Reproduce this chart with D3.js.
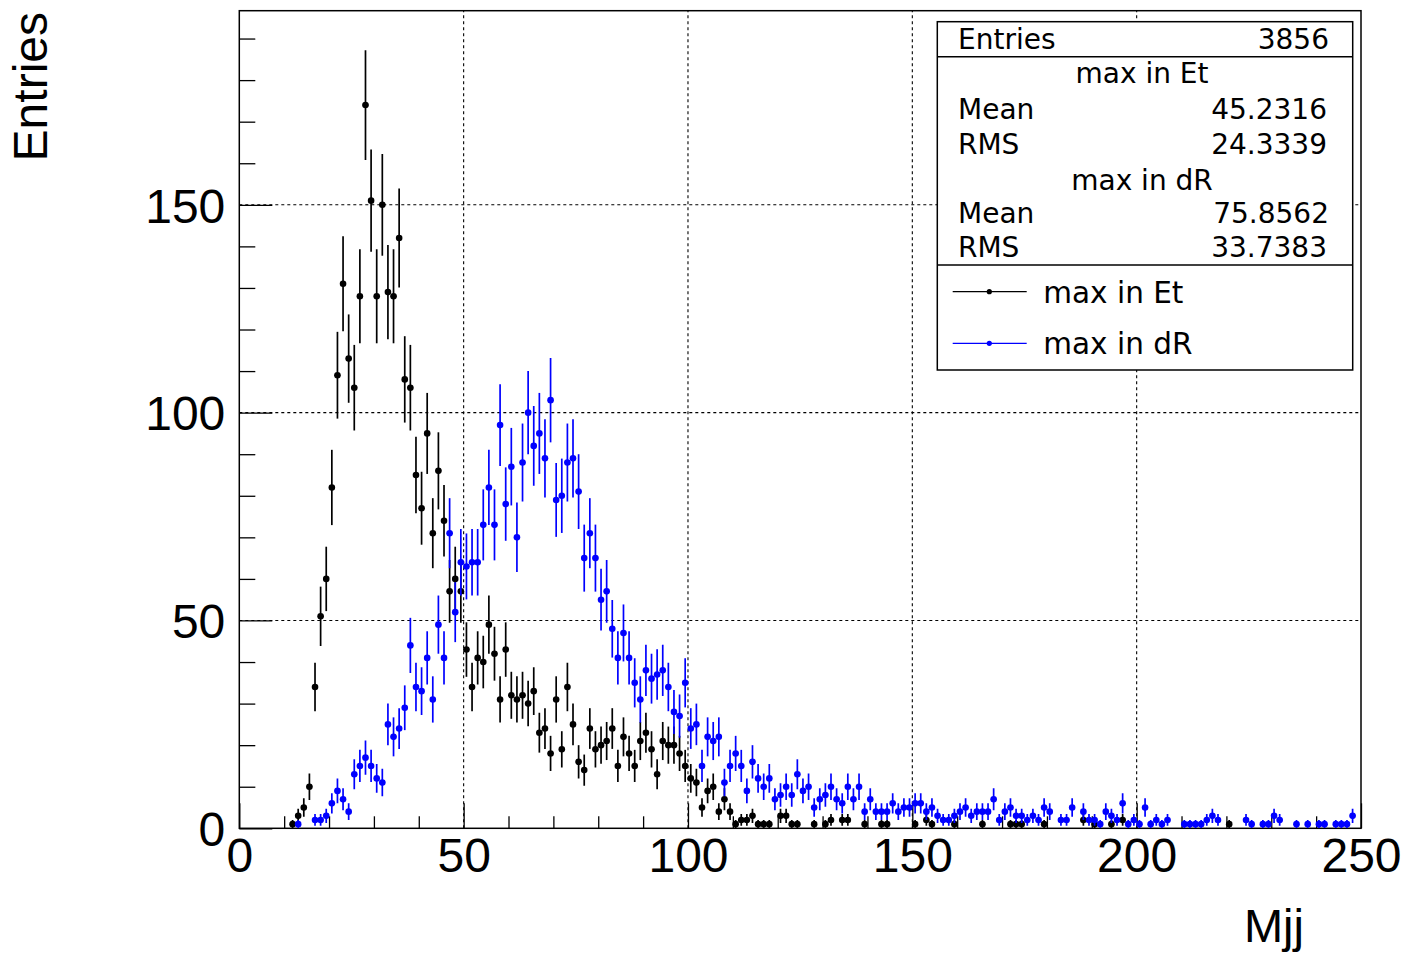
<!DOCTYPE html>
<html><head><meta charset="utf-8">
<script src="https://cdn.jsdelivr.net/npm/d3@7/dist/d3.min.js"></script>
<style>body{margin:0;background:#fff;}svg{display:block;}</style>
</head><body>
<svg id="c" width="1405" height="955"></svg>
<script>
// 200 bins from 0 to 250 (width 1.25)
const binEdges = [0, 250];
const nBins = 200;
const maxInEt = [
 0,0,0,0,0,0,0,0,0,1, 3,5,10,34,51,60,82,109,131,113,
 106,128,174,151,128,150,129,128,142,108, 106,85,77,95,71,86,74,57,60,57,
 43,34,41,40,49,42,31,43,32,31, 32,30,33,23,24,18,31,19,34,25,
 16,14,24,19,20,21,24,15,22,18, 15,21,23,19,13,21,20,20,18,15,
 12,11,5,9,10,4,7,4,1,2, 2,3,1,1,1,0,3,3,1,1,
 0,0,1,0,1,2,0,2,2,0, 0,1,0,0,1,1,0,0,0,0,
 1,0,2,1,0,0,0,1,0,0, 0,0,1,0,0,0,0,1,1,1,
 0,0,0,1,0,0,0,0,0,0, 2,0,1,0,0,1,0,2,0,0,
 0,0,0,0,0,0,0,0,0,0, 0,0,0,0,0,0,1,0,0,0,
 0,0,0,0,0,0,0,0,0,0, 0,0,0,0,0,0,0,0,0,0
];
const maxInDR = [
 0,0,0,0,0,0,0,0,0,0, 1,0,0,2,2,3,6,9,7,4,
 13,15,17,15,12,11,25,22,24,29, 44,34,33,41,31,49,41,71,52,64,
 63,64,64,73,82,73,97,78,87,70, 88,100,92,95,89,103,79,80,88,89,
 81,65,71,65,55,57,48,41,47,41, 35,31,38,36,37,38,34,28,27,35,
 24,25,15,22,21,22,11,15,18,15, 9,16,12,10,12,7,8,10,8,13,
 9,10,5,7,8,10,7,6,10,7, 10,4,7,4,4,4,6,4,5,5,
 6,6,4,5,3,2,2,3,4,5, 3,4,4,4,7,2,4,5,3,3,
 2,3,2,5,4,0,2,2,5,0, 4,2,2,1,4,3,2,6,1,2,
 1,5,1,2,1,2,0,0,1,1, 1,1,2,3,2,0,0,0,0,2,
 1,0,1,1,3,2,0,0,1,0, 1,0,1,1,0,1,1,1,3,0
];
const seriesNames = ["max in Et", "max in dR"];
const seriesColors = ["#000000", "#0000ff"];
const xMajorTicks = [0, 50, 100, 150, 200, 250];
const yMajorTicks = [0, 50, 100, 150];
const statsLabels = ["Mean", "RMS"];
const statsEt = ["45.2316", "24.3339"];
const statsDR = ["75.8562", "33.7383"];
const entries = "3856";

const svg = d3.select("#c");
const L = 239.3, R = 1361, T = 10.7, B = 828.3;
const x = d3.scaleLinear().domain(binEdges).range([L, R]);
const y = d3.scaleLinear().domain([0, 196.7]).range([B, T]);
const bw = (binEdges[1] - binEdges[0]) / nBins;

// grid
const grid = svg.append("g").attr("stroke", "#000").attr("stroke-width", 1.1).attr("stroke-dasharray", "3,3");
xMajorTicks.filter(v => v > 0 && v < 250).forEach(v => {
  grid.append("line").attr("x1", x(v)).attr("x2", x(v)).attr("y1", B).attr("y2", T);
});
yMajorTicks.filter(v => v > 0).forEach(v => {
  grid.append("line").attr("x1", L).attr("x2", R).attr("y1", y(v)).attr("y2", y(v));
});

// axes (ticks inward)
const xMinor = d3.range(0, 251, 10).filter(v => v % 50 !== 0);
const yMinor = d3.range(0, 197, 10).filter(v => v % 50 !== 0);
const gx = svg.append("g").attr("transform", `translate(0,${B})`);
gx.call(d3.axisBottom(x).tickValues(xMajorTicks).tickSize(-25).tickFormat(d3.format("d")).tickPadding(10));
gx.select(".domain").remove();
gx.selectAll(".tick line").attr("stroke", "#000").attr("stroke-width", 1.3);
gx.selectAll(".tick text").attr("font-family", "Liberation Sans, Arial, sans-serif").attr("font-size", 48).attr("fill", "#000").attr("dy", null).attr("y", 44);
const gx2 = svg.append("g").attr("transform", `translate(0,${B})`);
gx2.call(d3.axisBottom(x).tickValues(xMinor).tickSize(-12).tickFormat(""));
gx2.select(".domain").remove();
gx2.selectAll(".tick line").attr("stroke", "#000").attr("stroke-width", 1.3);

const gy = svg.append("g").attr("transform", `translate(${L},0)`);
gy.call(d3.axisLeft(y).tickValues(yMajorTicks).tickSize(-33).tickFormat(d3.format("d")));
gy.select(".domain").remove();
gy.selectAll(".tick line").attr("stroke", "#000").attr("stroke-width", 1.3);
gy.selectAll(".tick text").attr("font-family", "Liberation Sans, Arial, sans-serif").attr("font-size", 48).attr("fill", "#000").attr("x", -14).attr("dy", "0.36em");
const gy2 = svg.append("g").attr("transform", `translate(${L},0)`);
gy2.call(d3.axisLeft(y).tickValues(yMinor).tickSize(-16).tickFormat(""));
gy2.select(".domain").remove();
gy2.selectAll(".tick line").attr("stroke", "#000").attr("stroke-width", 1.3);

// frame
svg.append("rect").attr("x", L).attr("y", T).attr("width", R - L).attr("height", B - T)
  .attr("fill", "none").attr("stroke", "#000").attr("stroke-width", 1.5);

// axis titles
svg.append("text").attr("transform", "translate(47,12) rotate(-90)").attr("text-anchor", "end")
  .attr("font-family", "Liberation Sans, Arial, sans-serif").attr("font-size", 48).text("Entries");
svg.append("text").attr("x", 1304).attr("y", 942).attr("text-anchor", "end")
  .attr("font-family", "Liberation Sans, Arial, sans-serif").attr("font-size", 47).text("Mjj");

// data
svg.append("clipPath").attr("id", "fr").append("rect").attr("x", L).attr("y", T).attr("width", R - L).attr("height", B - T);
const plot = svg.append("g").attr("clip-path", "url(#fr)");
[maxInEt, maxInDR].forEach((vals, si) => {
  const col = seriesColors[si];
  const g = plot.append("g");
  const pts = vals.map((v, i) => ({i, v})).filter(d => d.v > 0);
  g.selectAll("line.v").data(pts).join("line").attr("class", "v")
    .attr("x1", d => x((d.i + 0.5) * bw)).attr("x2", d => x((d.i + 0.5) * bw))
    .attr("y1", d => y(Math.max(0, d.v - Math.sqrt(d.v)))).attr("y2", d => y(d.v + Math.sqrt(d.v)))
    .attr("stroke", col).attr("stroke-width", 1.7);
  g.selectAll("line.h").data(pts).join("line").attr("class", "h")
    .attr("x1", d => x(d.i * bw)).attr("x2", d => x((d.i + 1) * bw))
    .attr("y1", d => y(d.v)).attr("y2", d => y(d.v))
    .attr("stroke", col).attr("stroke-width", 1.7);
  g.selectAll("circle").data(pts).join("circle")
    .attr("cx", d => x((d.i + 0.5) * bw)).attr("cy", d => y(d.v)).attr("r", 3.3)
    .attr("fill", col);
});

// stats box
const sb = svg.append("g");
sb.append("rect").attr("x", 937.3).attr("y", 21.7).attr("width", 415.4).attr("height", 348.3)
  .attr("fill", "#fff").attr("stroke", "#000").attr("stroke-width", 1.5);
sb.append("line").attr("x1", 937.3).attr("x2", 1352.7).attr("y1", 56.7).attr("y2", 56.7).attr("stroke", "#000").attr("stroke-width", 1.5);
sb.append("line").attr("x1", 937.3).attr("x2", 1352.7).attr("y1", 265).attr("y2", 265).attr("stroke", "#000").attr("stroke-width", 1.5);
const font = "DejaVu Sans, sans-serif";
function txt(xp, yp, s, anchor, size) {
  sb.append("text").attr("x", xp).attr("y", yp).attr("text-anchor", anchor)
    .attr("font-family", font).attr("font-size", size).attr("fill", "#000").text(s);
}
txt(958, 49.3, "Entries", "start", 28);
txt(1329, 49.3, entries, "end", 28);
txt(1142, 83.3, seriesNames[0], "middle", 28);
txt(958, 119.3, statsLabels[0], "start", 28);
txt(1327, 119.3, statsEt[0], "end", 28);
txt(958, 154, statsLabels[1], "start", 28);
txt(1327, 154, statsEt[1], "end", 28);
txt(1142, 190, seriesNames[1], "middle", 28);
txt(958, 222.7, statsLabels[0], "start", 28);
txt(1329, 222.7, statsDR[0], "end", 28);
txt(958, 256.7, statsLabels[1], "start", 28);
txt(1327, 256.7, statsDR[1], "end", 28);
// legend
[[291.7, 303.3], [343.3, 354.3]].forEach(([ly, ty], si) => {
  sb.append("line").attr("x1", 952.7).attr("x2", 1026.7).attr("y1", ly).attr("y2", ly)
    .attr("stroke", seriesColors[si]).attr("stroke-width", 1.3);
  sb.append("circle").attr("cx", 989.3).attr("cy", ly).attr("r", 2.6).attr("fill", seriesColors[si]);
  txt(1043.3, ty, seriesNames[si], "start", 29.5);
});
</script>
</body></html>
